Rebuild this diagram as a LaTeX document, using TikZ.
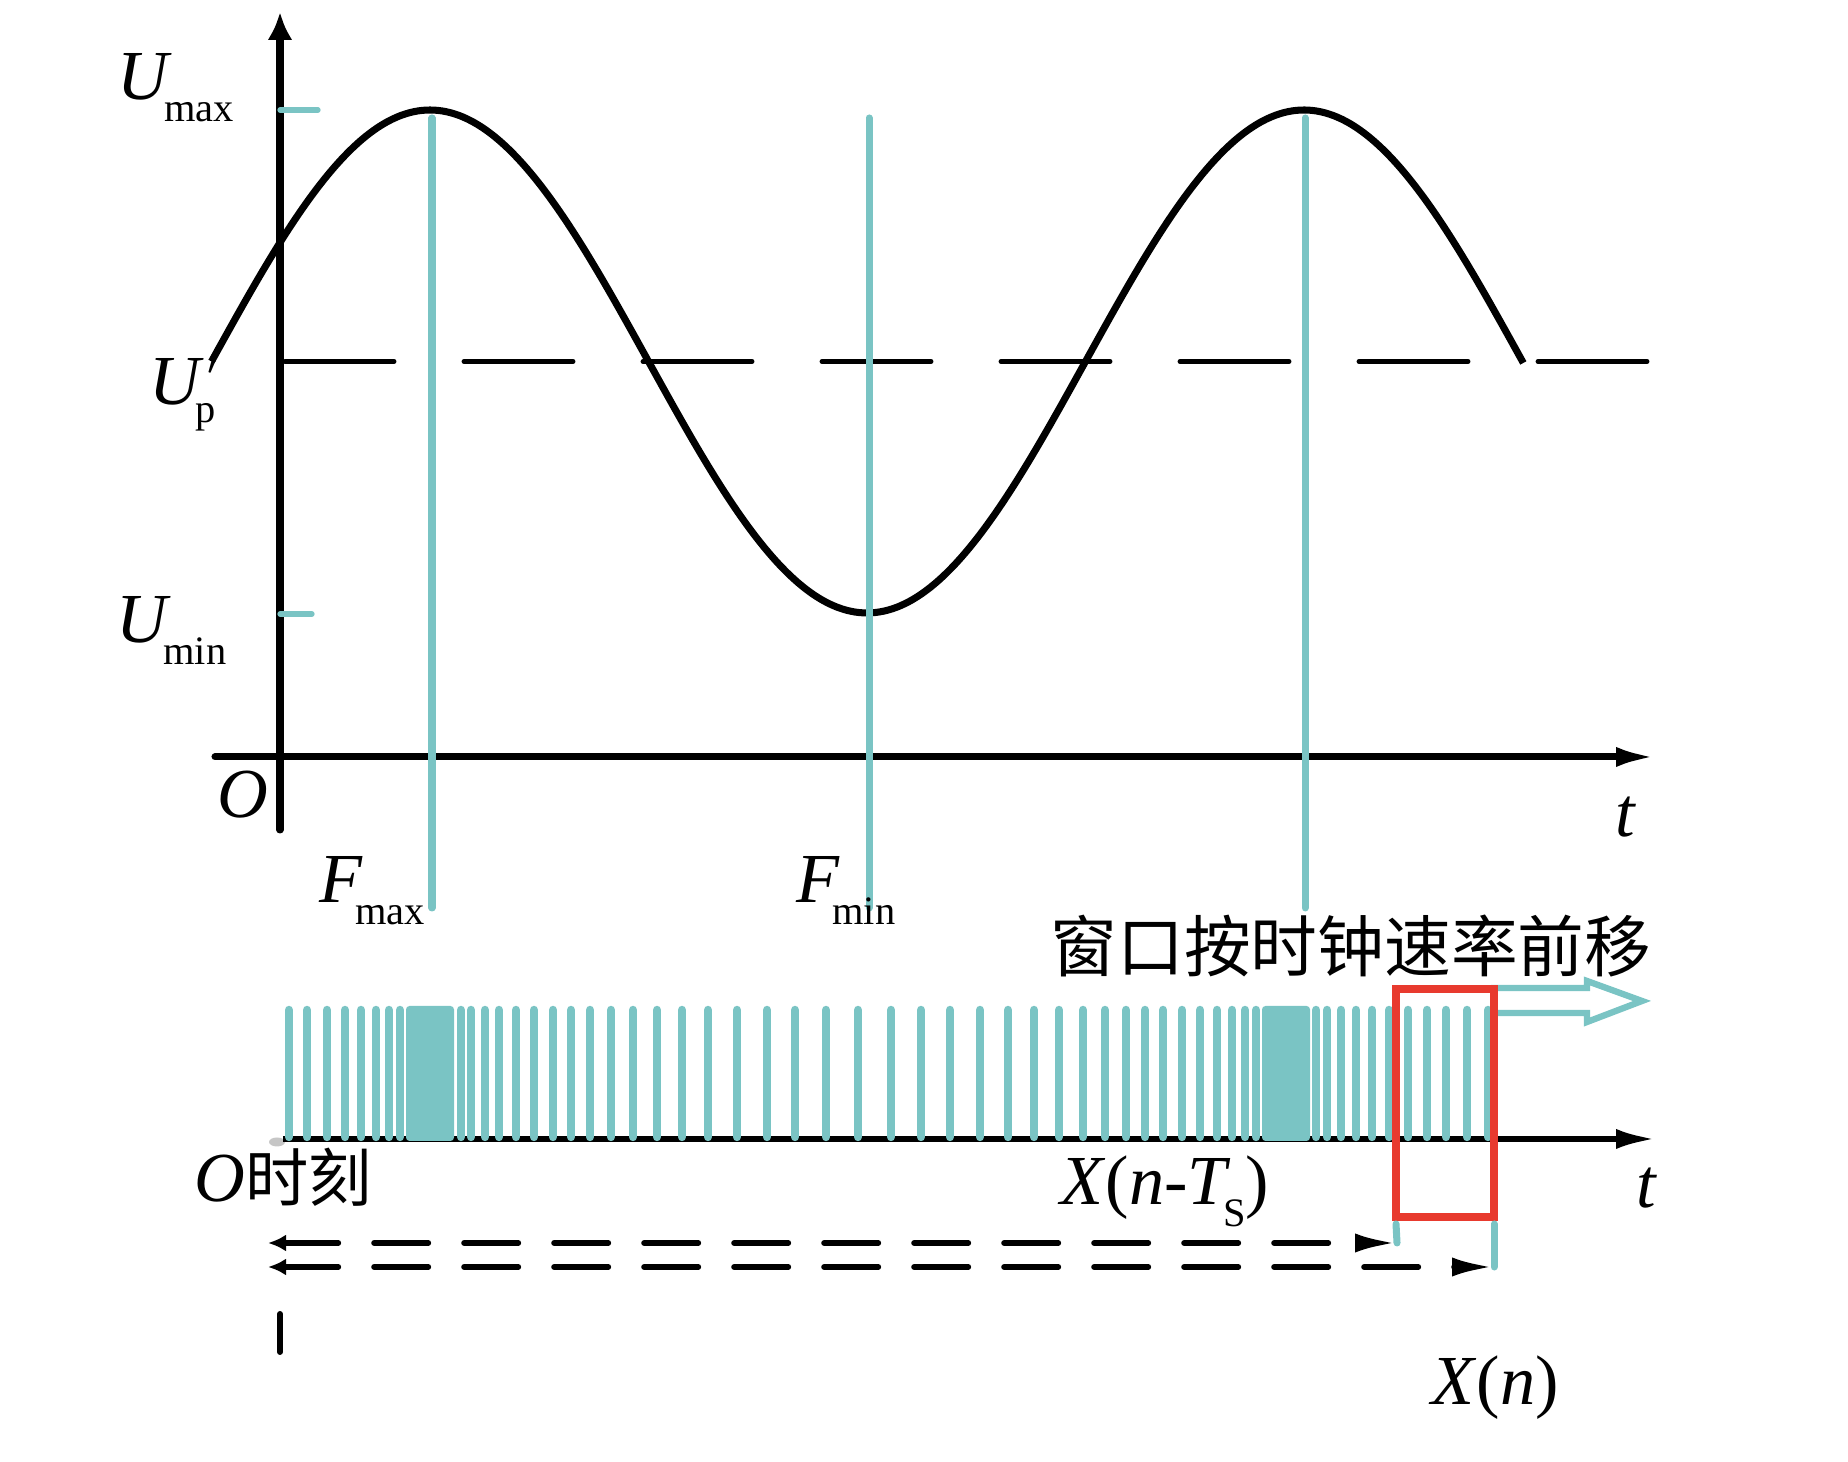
\documentclass[tikz,border=0pt]{standalone}
\usepackage{fontspec}
\setmainfont{Liberation Serif}
\newfontfamily\cjk{Noto Sans CJK SC}
\usetikzlibrary{arrows.meta}
\definecolor{pulsecyan}{RGB}{122,196,196}
\definecolor{windowred}{RGB}{232,58,46}

\begin{document}
\begin{tikzpicture}
    \pgfmathsetmacro{\sinecenter}{11.005}
    \pgfmathsetmacro{\sineamp}{2.515}
    \pgfmathsetmacro{\sineperiod}{8.74}
    \pgfmathsetmacro{\sinestart}{2.115}
    \pgfmathsetmacro{\sineend}{15.235}
    \pgfmathsetmacro{\pulsetop}{4.52}
    \pgfmathsetmacro{\pulsebottom}{3.25}
    \pgfmathsetmacro{\trainy}{3.23}
    \providecommand{\labelfontsize}{\fontsize{20}{24}\selectfont}
    \providecommand{\subfontsize}{\fontsize{11.5}{13}\selectfont}
    \providecommand{\cjkfontsize}{\fontsize{19}{22}\selectfont}
    \providecommand{\sublabel}[2]{\textit{#1}\kern-2.2pt\raisebox{-6.2pt}{\subfontsize #2}}
    \tikzset{
        axis/.style={line width=2pt,line cap=round,draw=black},
        axisarrow/.style={-{Latex[length=4mm,width=2mm]}},
        curve/.style={line width=2pt,draw=black},
        marker/.style={line width=2pt,draw=pulsecyan,line cap=round},
        tick/.style={line width=1.5pt,draw=pulsecyan,line cap=round},
        pulse/.style={line width=2.4pt,draw=pulsecyan,line cap=round},
        window/.style={line width=2.1pt,draw=windowred},
        hollow/.style={line width=1.8pt,draw=pulsecyan,fill=white,line join=miter},
        track/.style={line width=1.7pt,line cap=round,dash pattern=on 0.54cm off 0.36cm},
        lbl/.style={anchor=base west,inner sep=0pt,font=\labelfontsize}
    }
    \useasboundingbox (0,0) rectangle (18.48,14.62);

    % upper plot
    \draw[axis,-{Latex[length=2.8mm,width=2.5mm]}] (2.80,6.32) -- (2.80,14.50);
    \draw[axis,axisarrow] (2.15,7.05) -- (16.56,7.05);
    \draw[line width=1.4pt,line cap=round,dash pattern=on 1.09cm off 0.70cm] (2.85,\sinecenter) -- (16.52,\sinecenter);
    \draw[curve] plot[domain=\sinestart:\sineend,samples=160,smooth] (\x,{\sinecenter+\sineamp*sin(360*(\x-\sinestart)/\sineperiod)});
    \draw[tick] (2.80,13.52) -- (3.18,13.52);
    \draw[tick] (2.80,8.48) -- (3.12,8.48);
    \draw[marker] (4.32,13.44) -- (4.32,5.54);
    \draw[marker] (8.69,13.44) -- (8.69,5.54);
    \draw[marker] (13.05,13.44) -- (13.05,5.54);

    \node[lbl] (umax) at (1.17,13.62) {\sublabel{U}{max}};
    \node[lbl] (upeak) at (1.49,10.57) {\textit{U}\rlap{\kern1pt\raisebox{1pt}{$'$}}\kern-2.5pt\raisebox{-5pt}{\subfontsize p}};
    \node[lbl] (umin) at (1.16,8.19) {\sublabel{U}{min}};
    \node[lbl] (origin) at (2.17,6.44) {\textit{O}};
    \node[lbl] (taxis) at (16.15,6.25) {\textit{t}};
    \node[lbl] (fmax) at (3.19,5.59) {\sublabel{F}{max}};
    \node[lbl] (fmin) at (7.96,5.59) {\sublabel{F}{min}};
    \node[inner sep=0pt,font=\cjk\cjkfontsize] (movetext) at (13.51,5.16) {窗口按时钟速率前移};

    % pulse train
    \fill[gray!45] (2.77,3.20) ellipse (0.08 and 0.045);
    \draw[line width=1.7pt,axisarrow] (2.83,\trainy) -- (16.56,\trainy);
    \foreach \p in {2.89,3.07,3.27,3.45,3.61,3.76,3.89,4.00,4.61,4.71,4.85,4.99,5.16,5.34,5.53,5.71,5.90,6.11,6.33,6.57,6.82,7.08,7.37,7.67,7.95,8.26,8.58,8.91,9.21,9.50,9.80,10.08,10.34,10.59,10.83,11.05,11.26,11.45,11.63,11.82,12.00,12.17,12.32,12.45,12.56,13.16,13.27,13.41,13.56,13.72,13.89,14.08,14.27,14.46,14.67,14.88}
        \draw[pulse] (\p,\pulsebottom) -- (\p,\pulsetop);
    \fill[pulsecyan,rounded corners=1pt] (4.06,3.21) rectangle (4.54,4.56);
    \fill[pulsecyan,rounded corners=1pt] (12.62,3.21) rectangle (13.10,4.56);
    \draw[hollow] (14.94,4.74) -- (15.87,4.74) -- (15.87,4.81) -- (16.42,4.61) -- (15.87,4.40) -- (15.87,4.49) -- (14.94,4.49) -- cycle;
    \draw[window] (13.96,4.73) rectangle (14.94,2.45);

    \coordinate (start) at (2.68,2.19);
    \coordinate (startb) at (2.68,1.95);
    \coordinate (winleft) at (13.97,2.19);
    \coordinate (winright) at (14.94,1.95);
    \draw[marker] (13.96,2.38) -- (winleft);
    \draw[marker] (14.94,2.38) -- (winright);
    \draw[track,{Latex[length=1.8mm,width=1.7mm]}-{Latex[length=4.2mm,width=1.9mm]}] (start) -- (winleft);
    \draw[track,{Latex[length=1.8mm,width=1.7mm]}-{Latex[length=4.2mm,width=1.9mm]}] (startb) -- (winright);
    \draw[line width=1.7pt,line cap=round] (2.80,1.48) -- (2.80,1.10);

    \node[lbl] (startlabel) at (1.94,2.60) {\textit{O}{\cjk\fontsize{18}{20}\selectfont 时刻}};
    \node[lbl] (prevlabel) at (10.60,2.57) {\textit{X}(\textit{n}-\sublabel{T}{S})};
    \node[lbl] (taxisb) at (16.36,2.54) {\textit{t}};
    \node[lbl] (curlabel) at (14.31,0.57) {\textit{X}(\textit{n})};
\end{tikzpicture}
\end{document}
